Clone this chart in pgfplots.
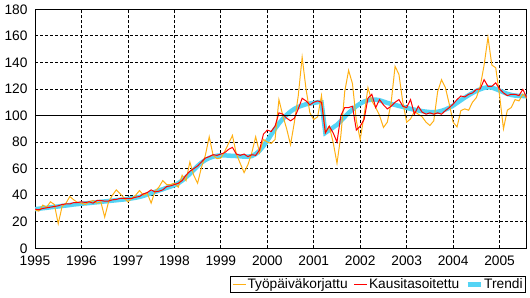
\documentclass[border=0pt]{standalone}
\usepackage{fontspec}
\setmainfont{Liberation Sans}
\usepackage{pgfplots}
\usepackage{pgfplotstable}
\pgfplotsset{compat=1.18}
\definecolor{corange}{RGB}{255,176,20}
\definecolor{cred}{RGB}{255,0,0}
\definecolor{cblue}{RGB}{85,212,245}
\pgfplotstableread{
i o r t
0 29 29.5 29.5
1 28 29 29.8
2 32.5 30 30.2
3 31 30.5 30.5
4 35 31 30.9
5 33 31.5 31.2
6 18.5 32 31.5
7 31.5 33 31.9
8 34 33.4 32.2
9 39 33.4 32.6
10 36.5 34.4 33
11 34.5 34.5 33.3
12 34 35 33.6
13 33 34.5 33.8
14 35 35 34.1
15 36 34 34.4
16 34 36 34.7
17 35 36 35
18 23.5 35.5 35.3
19 35 35.6 35.6
20 40 36.5 35.9
21 44 36.8 36.2
22 41 37.6 36.5
23 38 37.5 36.8
24 35 37.6 37.2
25 37.5 37.6 37.6
26 40 38.5 38.1
27 43.5 39 38.7
28 40 41 39.5
29 41.5 42 40.5
30 34 44 41.5
31 43 42.5 42.5
32 46 43 43.5
33 51 44 44.5
34 48 46.5 45.5
35 48 47 46.5
36 49 48 47.5
37 46 49 49
38 55 51 51
39 51 55 53.5
40 65 58 56
41 55 60 59
42 49 62 62
43 61 65 64.5
44 70 68 66.5
45 84 69 68
46 70 70.5 69
47 67.5 70 69.7
48 68 71 70
49 73 72 70
50 79 74.5 69.8
51 85 76 69.6
52 71 71 69.5
53 64 70 69.3
54 57 71 69
55 63 69 69
56 72 70.5 69.5
57 84 70 71
58 72 74 73.5
59 82 86 77
60 80 89 81
61 79 88 85.5
62 82 92 90
63 112 102 94
64 100 101 97.5
65 90 98 100.5
66 78 96 103
67 95 98 105
68 115 105 106.5
69 144 113 107.5
70 120 111 108.5
71 102 108 109
72 97 110 109.5
73 99 111 110
74 115 110 110
75 87 87 87
76 92 92 89
77 80 87 91
78 64 80 93
79 85 100 96
80 118 106 99
81 134 106 102
82 124 107 104.5
83 96 89 107
84 82 92 109
85 100 97 110.5
86 121 113 111.5
87 111 116 112
88 106 106 112
89 100 112 111.5
90 91 108 110.5
91 95 105 109.5
92 110 107 108.7
93 137 110 108
94 131 112 107.2
95 110 107 106.5
96 95 106 105.8
97 97.5 112 105
98 103 101 104.4
99 101 107 103.8
100 99 102.5 103.3
101 95 101 102.9
102 92.5 102 102.6
103 96 101 102.5
104 118 102 102.8
105 127 101 103.5
106 121 103.7 104.5
107 108.6 106 105.8
108 95 108.6 107.5
109 91.4 112 109.5
110 103.7 114.7 111.5
111 105 114 113.5
112 104 116 115.3
113 110 117 117
114 113.5 119.7 118.5
115 122 120 119.8
116 138 127 120.8
117 159 122 121.3
118 138 122 121
119 136 124.6 120
120 115 120 118.8
121 90 117 117.5
122 104 115 116.3
123 106 116 115.5
124 112 116 115
125 111 115 114.8
126 116 119.7 114.7
127 113 113.5 114.7
}\datatable
\begin{document}
\begin{tikzpicture}
\useasboundingbox (-35bp,-49.7bp) rectangle (495bp,248.3bp);
\begin{axis}[
  at={(0,0)}, anchor=south west,
  scale only axis, width=491.7bp, height=239bp,
  xmin=1995, xmax=2005.5833, ymin=0, ymax=180,
  xtick={1995,1996,...,2005}, ytick={0,20,...,180},
  /pgf/number format/1000 sep={},
  /pgf/number format/assume math mode=true,
  grid=major,
  major grid style={black, line width=0.8bp, dash pattern=on 3bp off 2bp},
  major tick length=0pt,
  axis line style={black, line width=1bp},
  tick label style={font=\fontsize{13.8}{16}\selectfont},
  xticklabel style={yshift=-4bp},
  yticklabel style={xshift=-4bp},
  legend style={at={(1,0)}, anchor=north east, yshift=-28bp, xshift=-0.5bp,
    legend columns=3, draw=black, line width=0.8bp, fill=white,
    inner xsep=2bp, inner ysep=1bp,
    font=\fontsize{13.8}{16}\selectfont,
    nodes={inner sep=1.2bp},
    /tikz/every even column/.append style={column sep=5bp}},
  legend image code/.code={\draw[#1] (0bp,0bp) -- (13bp,0bp);},
]
\addplot[cblue, line width=4.5bp, forget plot] table[x expr=1995+\thisrow{i}/12, y=t] {\datatable};
\addplot[corange, line width=1bp, forget plot] table[x expr=1995+\thisrow{i}/12, y=o] {\datatable};
\addplot[cred, line width=1bp, forget plot] table[x expr=1995+\thisrow{i}/12, y=r] {\datatable};
\addplot[black, line width=1bp, forget plot] coordinates {(1995,100) (2005.5833,100)};
\addlegendimage{corange, line width=1bp}
\addlegendentry{Työpäiväkorjattu}
\addlegendimage{cred, line width=1bp}
\addlegendentry{Kausitasoitettu}
\addlegendimage{cblue, line width=4.5bp}
\addlegendentry{Trendi}
\end{axis}
\end{tikzpicture}
\end{document}
